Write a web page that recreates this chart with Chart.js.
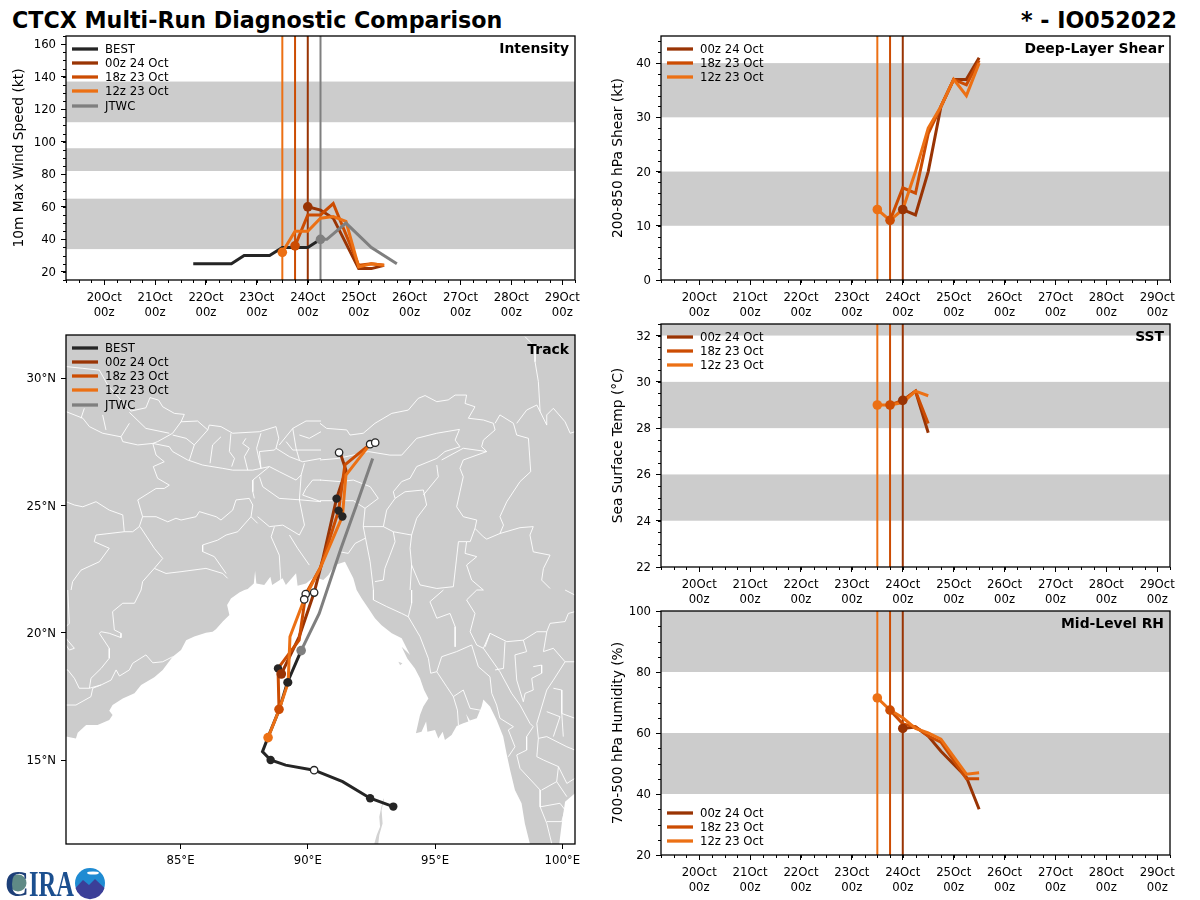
<!DOCTYPE html>
<html>
<head>
<meta charset="utf-8">
<title>CTCX Multi-Run Diagnostic Comparison</title>
<script src="https://cdn.jsdelivr.net/npm/chart.js@4"></script>
<style>
  html, body { margin: 0; background: #fff; }
  #page { position: relative; width: 1200px; height: 900px; overflow: hidden; font-family: "DejaVu Sans", sans-serif; }
  canvas { position: absolute; }
  .head { position: absolute; top: 5px; font-weight: bold; font-size: 22.2px; line-height: 30px; color: #000; white-space: nowrap; }
  #logo { position: absolute; left: 3px; top: 866px; }
</style>
</head>
<body>
<div id="page">
  <div class="head" style="left:12px">CTCX Multi-Run Diagnostic Comparison</div>
  <div class="head" style="right:23px">* - IO052022</div>
  <canvas id="intensity" width="595" height="304" style="left:0;top:26px"></canvas>
  <canvas id="track" width="595" height="549" style="left:0;top:325px"></canvas>
  <canvas id="shear" width="595" height="304" style="left:595px;top:26px"></canvas>
  <canvas id="sst" width="595" height="303" style="left:595px;top:314px"></canvas>
  <canvas id="rh" width="595" height="299" style="left:595px;top:601px"></canvas>
  <svg id="logo" width="106" height="34" viewBox="0 0 106 34">
    <circle cx="15" cy="17" r="8.5" fill="#5f8a86"/>
    <text x="2" y="30" font-family="Liberation Serif" font-weight="bold" font-size="36" fill="#1d3f78" textLength="24" lengthAdjust="spacingAndGlyphs">C</text>
    <text x="26" y="30" font-family="Liberation Serif" font-weight="bold" font-size="35" fill="#1b4f8f" textLength="45" lengthAdjust="spacingAndGlyphs">IRA</text>
    <circle cx="87" cy="17" r="15" fill="#1f8bd2"/>
    <path d="M72.5 22 L80 14 L86 19 L92 13 L101.5 22 A15 15 0 0 1 72.5 22 Z" fill="#3b3f98"/>
    <ellipse cx="90" cy="7" rx="6" ry="1.6" fill="#fff"/>
  </svg>
</div>
<script>
Chart.defaults.font.family = '"DejaVu Sans", sans-serif';
Chart.defaults.font.size = 11.7;
Chart.defaults.color = "#000";
Chart.defaults.animation = false;

// days of October on the time axis
const dayTicks = [20, 21, 22, 23, 24, 25, 26, 27, 28, 29];
const dayLabels = ["20Oct", "21Oct", "22Oct", "23Oct", "24Oct", "25Oct", "26Oct", "27Oct", "28Oct", "29Oct"];
const timeMin = 19.25;
const timeMax = 29.25;

const colorBest = "#252525";
const color00 = "#993404";
const color18 = "#cc4c02";
const color12 = "#ec7014";
const colorJtwc = "#7f7f7f";

const init00 = 24;
const init18 = 23.75;
const init12 = 23.5;
const initJtwc = 24.25;

// Intensity panel
const bestTimes = [21.75, 22, 22.25, 22.5, 22.75, 23, 23.25, 23.5, 23.75, 24, 24.25];
const bestWind = [25, 25, 25, 25, 30, 30, 30, 35, 35, 35, 40];
const jtwcTimes = [24.25, 24.375, 24.75, 25.25, 25.75];
const jtwcWind = [40, 40, 50, 35, 25];
const wind00Times = [24, 24.25, 24.5, 25, 25.25, 25.5];
const wind00 = [60, 58, 53, 22, 22, 24];
const wind18Times = [23.75, 24, 24.25, 24.5, 25, 25.25, 25.5];
const wind18 = [36, 55, 55, 62, 24, 25, 24];
const wind12Times = [23.5, 23.75, 24, 24.25, 24.5, 24.75, 25, 25.25, 25.5];
const wind12 = [32, 45, 45, 53, 54, 51, 23, 25, 24];
const windBands = [[34, 65], [82, 96], [112, 137]];
const windTicks = [20, 40, 60, 80, 100, 120, 140, 160];

// model time steps for the right column
const times00 = [24, 24.25, 24.5, 24.75, 25, 25.25, 25.5];
const times18 = [23.75, 24, 24.25, 24.5, 24.75, 25, 25.25, 25.5];
const times12 = [23.5, 23.75, 24, 24.25, 24.5, 24.75, 25, 25.25, 25.5];

// Deep-layer shear
const shear00 = [13, 12, 20, 32, 37, 37, 41];
const shear18 = [11, 17, 16, 27, 32, 37, 36, 40.5];
const shear12 = [13, 11, 13, 20, 28, 32, 37, 34, 40];
const shearBands = [[10, 20], [30, 40]];
const shearTicks = [0, 10, 20, 30, 40];

// SST
const sstTimes00 = [24, 24.25, 24.5];
const sstTimes18 = [23.75, 24, 24.25, 24.5];
const sstTimes12 = [23.5, 23.75, 24, 24.25, 24.5];
const sst00 = [29.2, 29.6, 27.8];
const sst18 = [29, 29.2, 29.6, 28.2];
const sst12 = [29, 29, 29.1, 29.6, 29.4];
const sstBands = [[24, 26], [28, 30], [32, 34]];
const sstTicks = [22, 24, 26, 28, 30, 32];

// Mid-level RH
const rhTimes00 = [24, 24.25, 24.5, 24.75, 25.25, 25.5];
const rhTimes18 = [23.75, 24, 24.25, 24.5, 24.75, 25.25, 25.5];
const rhTimes12 = [23.5, 23.75, 24, 24.25, 24.5, 24.75, 25.25, 25.5];
const rh00 = [61.5, 62, 59, 54, 45.5, 35];
const rh18 = [67.5, 63, 62, 59, 57, 45, 45];
const rh12 = [71.5, 67.5, 65, 61.5, 60, 58, 46.5, 47];
const rhBands = [[40, 60], [80, 100]];
const rhTicks = [20, 40, 60, 80, 100];

// Track panel, [lon, lat]
const lonTicks = [85, 90, 95, 100];
const latTicks = [15, 20, 25, 30];
const trackBest = [[93.36, 13.17], [92.45, 13.5], [91.37, 14.15], [90.25, 14.6], [89.13, 14.8], [88.54, 15.0], [88.22, 15.33], [88.44, 15.9], [88.87, 16.96], [89.2, 18.05], [89.74, 19.3]];
const trackJtwc = [[89.74, 19.3], [90.45, 20.76], [91.3, 23.3], [91.89, 24.95], [92.55, 26.85]];
const track00 = [[88.96, 18.38], [89.66, 19.84], [90.25, 21.58], [90.58, 22.85], [91.13, 25.27], [91.5, 26.39], [91.27, 27.08]];
const track18 = [[88.87, 16.99], [88.83, 18.6], [89.66, 19.71], [89.92, 21.52], [90.51, 22.59], [91.21, 24.8], [91.46, 26.6], [92.45, 27.41]];
const track12 = [[88.44, 15.88], [88.87, 16.96], [89.23, 18.05], [89.3, 19.84], [89.86, 21.31], [90.51, 22.59], [91.36, 24.57], [91.5, 26.2], [92.45, 27.41], [92.65, 27.47]];
const dotsFilled = [[93.36, 13.17], [92.45, 13.5], [88.54, 15.0], [89.2, 18.05], [88.83, 18.6], [89.23, 18.05], [91.13, 25.27], [91.21, 24.8], [91.36, 24.57]];
const dotsOpen = [[90.25, 14.6], [91.23, 27.08], [92.45, 27.41], [92.65, 27.47], [89.92, 21.52], [89.86, 21.31], [90.25, 21.58]];

// Bay of Bengal as one outline, everything else in the frame is land
const bayOutline = [[80.5, 15.92], [80.89, 15.85], [80.96, 16.07], [81.29, 16.38], [81.74, 16.38], [82.2, 16.57], [82.33, 16.77], [82.2, 16.94], [82.33, 17.16], [82.73, 17.42], [83.19, 17.62], [83.45, 17.95], [83.97, 18.25], [84.3, 18.54], [84.69, 19.06], [85.02, 19.32], [85.22, 19.71], [85.54, 19.85], [86.0, 20.0], [86.26, 20.04], [86.39, 20.14], [86.66, 20.44], [86.92, 20.7], [86.83, 21.09], [86.98, 21.35], [87.31, 21.58], [87.51, 21.68], [87.64, 21.72], [87.88, 21.94], [87.93, 22.43], [87.98, 21.94], [88.29, 21.88], [88.53, 22.2], [88.6, 21.88], [89.01, 22.14], [89.14, 21.88], [89.54, 22.34], [89.6, 21.85], [89.93, 21.94], [90.26, 22.2], [90.61, 22.07], [90.81, 22.27], [91.07, 22.66], [91.46, 22.79], [91.79, 22.14], [91.92, 21.68], [92.12, 21.35], [92.38, 20.96], [92.64, 20.57], [92.9, 20.3], [93.3, 19.98], [93.69, 19.78], [94.02, 19.13], [93.69, 19.45], [93.91, 18.99], [94.21, 18.6], [94.41, 18.21], [94.57, 17.75], [94.74, 17.42], [94.54, 17.1], [94.41, 16.77], [94.25, 16.05], [94.47, 16.11], [94.65, 16.51], [94.7, 16.11], [95.0, 16.18], [95.13, 15.85], [95.3, 16.11], [95.39, 15.79], [95.65, 15.98], [95.85, 16.34], [96.11, 16.44], [96.31, 16.51], [96.22, 16.81], [96.37, 16.55], [96.64, 16.64], [96.83, 17.1], [96.9, 17.38], [97.16, 17.1], [97.42, 16.57], [97.68, 15.92], [97.81, 15.26], [97.95, 14.61], [98.14, 13.82], [98.4, 13.3], [98.53, 12.51], [98.73, 11.7], [80.5, 11.7]];
const gulfOutline = [[100.5, 13.69], [100.11, 13.36], [100.04, 12.9], [99.98, 12.51], [99.88, 11.7], [100.5, 11.7]];
const andamanOutline = [[92.97, 13.5], [92.88, 13.1], [92.81, 12.77], [92.84, 12.38], [92.71, 12.05], [92.61, 11.7], [92.77, 11.7], [92.81, 12.05], [92.94, 12.51], [92.9, 13.04], [92.99, 13.43]];
const cheduba = [[93.56, 18.86], [93.72, 18.8], [93.63, 18.72]];

const borderLines = [
  [[80.5, 30.46], [81.16, 30.39], [81.81, 30.32], [82.14, 29.73], [82.66, 29.14], [83.05, 28.71], [83.64, 28.84], [83.8, 29.24], [84.14, 29.14], [84.3, 28.88], [84.76, 28.62], [85.15, 28.58], [85.02, 28.29], [85.67, 28.32], [86.07, 27.97], [86.13, 28.16], [86.59, 28.1], [87.05, 27.84], [88.1, 27.9], [88.75, 28.1], [88.86, 27.64], [88.75, 27.25]],
  [[80.5, 28.69], [81.16, 28.43], [81.42, 28.1], [81.94, 27.84], [82.66, 27.7], [82.73, 27.51], [83.32, 27.38], [83.91, 27.44], [84.56, 27.31], [84.69, 27.12], [85.28, 26.79], [85.87, 26.59], [86.66, 26.46], [87.05, 26.39], [87.84, 26.39], [88.16, 26.46], [88.1, 27.12], [88.69, 27.18], [88.75, 27.25]],
  [[81.22, 28.82], [81.09, 28.43]],
  [[81.94, 28.56], [82.07, 27.97]],
  [[82.99, 28.66], [83.64, 28.03], [84.56, 27.84]],
  [[85.02, 28.29], [84.69, 27.84], [84.1, 27.51], [83.91, 27.44]],
  [[84.69, 27.77], [85.22, 27.64], [85.54, 27.38], [85.35, 26.79]],
  [[86.07, 27.97], [85.54, 27.38]],
  [[86.59, 27.7], [86.26, 27.38], [86.16, 26.66]],
  [[86.98, 27.84], [86.92, 27.12], [87.12, 26.85], [87.01, 26.53]],
  [[87.57, 27.64], [87.44, 27.44], [87.7, 27.25], [87.51, 26.92], [87.64, 26.39]],
  [[88.16, 27.84], [87.99, 27.25], [88.16, 26.46]],
  [[82.99, 28.23], [82.66, 27.7]],
  [[83.91, 27.44], [84.04, 26.98], [84.36, 26.72], [83.93, 26.53], [84.1, 26.07], [84.56, 25.8], [84.36, 25.67], [84.04, 25.67], [83.32, 25.22], [83.51, 24.56], [83.38, 24.17], [83.12, 23.97], [82.79, 23.97], [82.73, 24.63], [82.2, 24.82], [81.68, 25.15], [81.16, 24.95], [80.83, 25.02], [80.5, 25.15]],
  [[83.51, 24.56], [84.04, 24.56], [84.5, 24.36], [84.82, 24.5], [85.02, 24.43], [85.61, 24.56], [85.74, 24.76], [86.4, 24.56], [86.59, 24.43], [87.05, 24.82], [87.18, 25.22], [87.7, 25.28], [87.84, 25.02], [87.77, 24.56], [88.03, 24.3]],
  [[87.77, 24.56], [87.25, 23.97], [86.79, 23.84], [86.46, 23.64], [85.87, 23.45], [85.87, 23.19], [86.33, 22.99], [86.79, 22.33]],
  [[83.41, 24.17], [83.97, 23.32], [84.3, 22.92], [83.97, 22.53], [84.43, 22.33], [85.02, 22.4], [86.0, 22.53], [86.66, 22.33], [86.85, 22.14]],
  [[83.97, 22.53], [83.51, 22.01], [83.45, 21.68]],
  [[82.79, 23.97], [81.68, 23.84], [81.61, 23.58], [82.2, 23.32], [81.81, 22.79], [81.09, 22.46], [80.76, 22.01], [80.7, 21.68]],
  [[88.49, 26.53], [87.84, 26.0], [87.84, 25.54], [87.9, 25.28]],
  [[88.16, 26.46], [88.49, 26.53], [88.88, 26.33], [89.54, 26.0], [89.74, 26.2], [89.87, 26.66]],
  [[88.1, 26.13], [88.23, 25.74], [88.88, 25.28], [89.74, 25.22], [90.52, 25.15]],
  [[88.03, 24.56], [88.49, 24.17], [89.02, 24.23], [89.67, 23.84], [89.87, 24.23], [89.67, 25.22], [89.74, 26.2]],
  [[88.69, 24.17], [88.56, 23.77], [88.88, 23.05], [88.95, 21.9]],
  [[89.28, 23.84], [89.6, 23.32], [90.06, 22.66]],
  [[88.88, 27.38], [89.41, 28.03], [89.93, 28.32], [90.52, 28.32]],
  [[89.41, 28.03], [89.54, 27.25], [89.67, 26.79]],
  [[89.67, 27.77], [90.06, 27.64], [90.52, 27.9]],
  [[89.15, 27.51], [89.41, 27.18], [90.52, 27.18]],
  [[88.75, 27.25], [89.28, 26.92], [89.8, 26.72], [90.52, 26.85]],
  [[89.93, 25.67], [90.19, 26.0], [90.52, 26.0]],
  [[89.93, 25.67], [89.8, 25.41], [90.52, 25.15]],
  [[90.48, 28.23], [90.74, 28.03], [91.53, 27.97], [91.66, 27.77], [92.18, 27.84], [92.64, 28.23], [93.3, 28.62], [93.95, 28.75], [94.34, 29.21], [94.61, 29.32], [95.07, 29.08], [95.52, 29.15], [95.79, 29.34], [96.24, 29.34], [96.18, 29.01], [96.57, 28.88], [96.31, 28.43], [96.9, 28.36], [97.29, 28.23], [97.36, 27.97], [96.9, 27.57], [96.83, 27.31], [97.03, 27.12], [96.11, 27.25], [95.26, 26.79]],
  [[90.48, 26.79], [91.2, 26.85], [92.38, 27.12], [93.23, 26.98], [93.69, 26.98], [94.28, 27.64], [95.07, 27.84], [95.96, 27.99], [95.79, 27.57], [95.98, 27.31], [95.39, 27.12], [95.07, 26.85], [94.28, 26.53], [94.02, 26.07], [93.69, 25.94], [93.36, 25.54], [93.43, 25.28], [93.82, 25.54], [94.54, 25.61], [94.67, 25.02], [94.28, 24.5], [94.08, 23.84], [93.36, 23.97], [92.97, 24.17], [93.1, 24.82], [93.43, 25.28]],
  [[95.07, 26.59], [95.13, 26.13], [94.54, 25.41]],
  [[97.03, 27.12], [96.11, 26.79], [95.98, 26.46], [96.11, 26.13], [95.98, 25.54], [95.85, 24.95], [96.11, 24.56], [96.64, 24.43], [96.57, 24.1], [96.9, 23.77], [97.03, 23.68], [97.55, 23.9], [98.34, 24.13], [98.86, 24.17]],
  [[97.36, 28.23], [97.55, 28.56], [98.08, 28.23], [98.21, 27.77], [98.67, 27.64], [98.76, 26.33], [98.34, 25.94], [97.82, 25.15], [97.55, 24.56], [97.69, 24.23], [97.55, 23.9]],
  [[98.54, 31.63], [98.93, 31.24], [98.93, 30.65], [99.06, 29.87], [99.13, 28.69], [99.39, 28.16], [99.39, 28.56], [99.65, 28.82], [100.11, 28.29], [100.31, 27.84], [100.5, 27.9]],
  [[98.21, 28.23], [98.6, 28.75], [99.0, 28.95], [99.13, 28.69]],
  [[98.86, 24.17], [98.73, 23.84], [98.86, 23.18], [99.52, 23.05], [99.26, 22.53], [99.19, 22.07], [99.52, 21.74]],
  [[90.48, 26.0], [91.27, 25.94], [91.79, 26.0], [92.45, 25.74], [92.77, 25.28], [92.25, 24.89], [91.79, 25.19], [90.48, 25.19]],
  [[92.25, 24.89], [92.18, 24.17], [92.97, 24.17]],
  [[92.18, 24.17], [92.45, 22.79], [92.58, 21.68]],
  [[92.25, 23.71], [91.86, 23.51], [91.59, 23.12], [91.27, 23.18], [91.4, 23.58]],
  [[93.36, 23.97], [93.43, 23.58], [93.23, 23.05], [93.03, 22.53], [92.97, 22.07], [92.64, 22.01]],
  [[94.08, 23.84], [94.02, 23.32], [94.08, 22.66], [94.02, 21.68]],
  [[94.08, 22.66], [94.41, 21.88], [95.07, 21.74], [95.72, 21.81], [95.92, 23.58], [96.24, 23.58], [96.18, 23.12], [96.64, 22.99], [96.24, 22.66], [96.44, 22.07], [96.9, 21.68]],
  [[96.57, 24.1], [96.38, 23.58], [96.24, 23.58]],
  [[92.58, 21.68], [92.58, 21.29], [93.1, 21.03], [93.69, 20.76], [93.95, 20.63], [94.41, 19.85], [94.74, 18.99], [94.83, 18.41], [95.07, 18.47], [95.26, 19.06], [95.85, 19.26], [96.44, 19.52]],
  [[94.08, 21.68], [94.08, 21.16], [93.95, 20.63]],
  [[95.33, 21.68], [94.8, 21.22], [95.07, 20.57], [95.59, 20.76], [95.79, 20.24], [95.79, 19.45]],
  [[96.9, 21.68], [96.64, 21.68], [96.24, 21.29], [96.57, 20.76], [96.38, 20.04], [96.64, 19.52], [96.9, 19.39], [97.16, 19.98], [97.82, 19.65], [98.47, 19.71], [99.0, 20.04], [99.39, 20.04], [99.52, 20.37], [100.11, 20.44], [100.24, 20.76], [100.5, 20.83]],
  [[100.11, 21.68], [100.5, 21.48]],
  [[95.07, 18.47], [95.46, 17.88], [95.72, 17.49], [96.11, 17.75], [96.38, 17.03], [96.77, 16.96]],
  [[95.72, 17.49], [95.88, 16.96], [95.92, 16.37]],
  [[96.44, 19.52], [96.7, 18.67], [97.16, 18.27], [97.23, 17.62], [97.42, 17.16], [97.55, 16.64], [98.08, 16.31], [97.88, 16.18], [98.14, 15.52], [97.88, 15.13]],
  [[96.9, 19.39], [97.55, 18.47], [98.01, 17.62], [98.34, 17.16], [98.73, 16.44], [98.86, 16.31], [98.6, 15.92], [98.6, 15.39], [98.21, 15.2], [98.34, 14.67], [99.13, 13.82], [99.13, 13.16], [99.39, 12.51], [99.59, 11.7]],
  [[97.16, 19.98], [96.97, 19.45]],
  [[97.75, 19.65], [97.69, 18.6], [97.36, 18.54]],
  [[98.47, 19.71], [98.6, 19.26], [98.14, 19.13], [98.21, 18.14], [98.47, 17.29]],
  [[98.86, 18.67], [99.19, 18.73], [99.19, 18.41], [98.8, 18.21], [98.86, 17.75], [98.54, 17.62], [98.47, 17.29]],
  [[99.39, 20.04], [99.26, 19.26], [99.65, 19.39], [100.11, 18.86], [100.5, 18.86]],
  [[100.11, 18.86], [99.65, 18.14], [99.39, 17.75], [99.0, 16.44], [99.06, 15.85], [99.39, 15.92], [100.18, 15.52], [100.5, 15.39]],
  [[99.65, 17.82], [99.98, 17.75], [99.98, 16.83], [100.5, 16.64]],
  [[99.39, 16.9], [99.91, 16.7], [99.65, 15.92]],
  [[99.98, 16.83], [100.04, 15.92]],
  [[99.06, 15.85], [99.0, 15.13], [99.26, 15.0], [99.85, 14.74], [99.78, 14.15], [99.19, 13.82]],
  [[99.85, 14.74], [100.18, 14.08], [100.5, 14.28]],
  [[99.78, 14.15], [100.18, 13.56]],
  [[99.13, 13.16], [99.91, 13.3], [100.11, 13.04], [99.98, 12.58], [99.39, 12.58]],
  [[83.45, 21.68], [83.19, 21.16], [82.73, 21.16], [82.33, 20.83], [82.4, 20.11], [82.66, 19.98], [82.66, 19.81], [82.2, 19.98], [81.88, 20.04], [81.81, 19.98], [82.2, 19.39], [82.2, 19.0], [81.88, 18.6], [81.48, 18.21], [81.42, 17.82], [81.02, 17.82], [80.83, 18.21], [80.57, 18.54], [80.5, 18.54]],
  [[81.42, 17.82], [81.88, 17.95], [82.27, 18.14], [82.47, 18.54], [82.6, 18.3], [82.99, 18.54], [83.12, 18.8], [83.64, 19.13], [83.91, 18.82], [84.3, 18.86], [84.69, 19.06]],
  [[81.88, 17.95], [81.55, 17.82], [81.48, 17.49], [80.89, 17.16], [80.5, 17.16]],
  [[80.5, 19.78], [80.83, 19.39], [80.63, 19.32], [80.5, 19.52]],
  [[80.57, 21.68], [80.63, 20.37], [80.5, 20.24]]
];

const zip = (xs, ys) => xs.map((x, i) => ({ x, y: ys[i] }));
const lonLat = pts => pts.map(p => ({ x: p[0], y: p[1] }));

function lineSet(points, color, width) {
  return { data: points, showLine: true, borderColor: color, backgroundColor: color, borderWidth: width || 3, pointRadius: 0, borderJoinStyle: "miter" };
}

function startDot(x, y, color, r) {
  return { data: [{ x, y }], showLine: false, pointRadius: r || 4.8, pointBackgroundColor: color, pointBorderColor: color, pointBorderWidth: 0 };
}

function polygon(points, color) {
  return { data: lonLat(points), showLine: true, fill: "shape", borderWidth: 0, borderColor: color, backgroundColor: color, pointRadius: 0 };
}

// first in the list is painted first
function paintOrder(sets) {
  sets.forEach((s, i) => { s.order = sets.length - i; });
  return sets;
}

// bands, frame, minor ticks, legend and the panel name, all placed with the chart's scales
const panelPlugin = {
  id: "panel",
  beforeDatasetsDraw(chart, args, opts) {
    const { ctx, chartArea: a, scales: { y } } = chart;
    ctx.save();
    if (opts.land) {
      ctx.fillStyle = opts.land;
      ctx.fillRect(a.left, a.top, a.width, a.height);
    }
    ctx.beginPath();
    ctx.rect(a.left, a.top, a.width, a.height);
    ctx.clip();
    ctx.fillStyle = "#cccccc";
    (opts.bands || []).forEach(b => {
      const top = y.getPixelForValue(b[1]);
      ctx.fillRect(a.left, top, a.width, y.getPixelForValue(b[0]) - top);
    });
    ctx.restore();
  },
  afterDatasetsDraw(chart, args, opts) {
    const { ctx, chartArea: a, scales: { x, y } } = chart;
    ctx.save();
    ctx.strokeStyle = "#000";
    ctx.lineWidth = 1;
    ctx.beginPath();
    if (opts.minorX) {
      for (let v = x.min; v <= x.max; v += opts.minorX) {
        const px = Math.round(x.getPixelForValue(v)) + 0.5;
        ctx.moveTo(px, a.bottom);
        ctx.lineTo(px, a.bottom + 3);
      }
    }
    if (opts.minorY) {
      for (let v = y.min; v <= y.max; v += opts.minorY) {
        const py = Math.round(y.getPixelForValue(v)) + 0.5;
        ctx.moveTo(a.left, py);
        ctx.lineTo(a.left - 3, py);
      }
    }
    ctx.stroke();
    ctx.lineWidth = 1.3;
    ctx.strokeRect(a.left, a.top, a.width, a.height);

    ctx.font = '11.7px "DejaVu Sans"';
    ctx.textBaseline = "middle";
    ctx.textAlign = "left";
    const rowY = opts.legendBottom ? a.bottom - 14 - 14 * (opts.legend.length - 1) : a.top + 13;
    opts.legend.forEach((item, i) => {
      const ly = rowY + i * 14 + (item[0] === "JTWC" ? 1 : 0);
      ctx.strokeStyle = item[1];
      ctx.lineWidth = 3.3;
      ctx.beginPath();
      ctx.moveTo(a.left + 6, ly);
      ctx.lineTo(a.left + 32, ly);
      ctx.stroke();
      ctx.fillStyle = "#000";
      ctx.fillText(item[0], a.left + 39, ly + 1);
    });

    ctx.font = 'bold 13.9px "DejaVu Sans"';
    ctx.textAlign = "right";
    ctx.fillText(opts.name, a.right - 6, a.top + (opts.nameDrop || 13));
    ctx.restore();
  }
};

const legendAll = [["BEST", colorBest], ["00z 24 Oct", color00], ["18z 23 Oct", color18], ["12z 23 Oct", color12], ["JTWC", colorJtwc]];
const legendRuns = [["00z 24 Oct", color00], ["18z 23 Oct", color18], ["12z 23 Oct", color12]];

function timeAxis(bottom) {
  return {
    type: "linear",
    min: timeMin,
    max: timeMax,
    afterBuildTicks: s => { s.ticks = dayTicks.map(value => ({ value })); },
    afterFit: s => { s.height = bottom; },
    ticks: { autoSkip: false, maxRotation: 0, minRotation: 0, padding: 5, font: { lineHeight: 1.28 }, callback: v => [dayLabels[dayTicks.indexOf(v)], "00z"] },
    grid: { drawOnChartArea: false, tickLength: 5, tickColor: "#000", tickWidth: 1 },
    border: { display: false }
  };
}

function valueAxis(min, max, ticks, label, pad, suffix) {
  return {
    type: "linear",
    min,
    max,
    afterBuildTicks: s => { s.ticks = ticks.map(value => ({ value })); },
    // keep the plot box where the layout puts it, no extra room for the top tick label
    afterFit: s => { s.width = 66; s.paddingTop = 0; s.paddingBottom = 0; },
    title: { display: !!label, text: label, font: { size: 13.8 }, padding: { top: pad, bottom: 0 } },
    ticks: { autoSkip: false, padding: 5, labelOffset: 1, callback: v => v + (suffix || "") },
    grid: { drawOnChartArea: false, tickLength: 5, tickColor: "#000", tickWidth: 1 },
    border: { display: false }
  };
}

function makePanel(id, sets, x, y, panel) {
  return new Chart(document.getElementById(id), {
    type: "scatter",
    data: { datasets: paintOrder(sets) },
    plugins: [panelPlugin],
    options: {
      responsive: false,
      events: [],
      layout: { padding: { top: 10, right: 20, bottom: 0, left: 0 } },
      scales: { x, y },
      plugins: { legend: { display: false }, tooltip: { enabled: false }, panel }
    }
  });
}

function initLines(min, max, withJtwc) {
  const sets = [
    lineSet(zip([init00, init00], [min, max]), color00, 2),
    lineSet(zip([init18, init18], [min, max]), color18, 2),
    lineSet(zip([init12, init12], [min, max]), color12, 2)
  ];
  if (withJtwc) sets.push(lineSet(zip([initJtwc, initJtwc], [min, max]), colorJtwc, 2));
  return sets;
}

function runPanel(id, min, max, ticks, label, pad, minorY, bands, v00, v18, v12, t00, t18, t12, bottom, name, legendBottom) {
  makePanel(id, [
    ...initLines(min, max, false),
    lineSet(zip(t00, v00), color00),
    lineSet(zip(t18, v18), color18),
    lineSet(zip(t12, v12), color12),
    startDot(t00[0], v00[0], color00),
    startDot(t18[0], v18[0], color18),
    startDot(t12[0], v12[0], color12)
  ], timeAxis(bottom), valueAxis(min, max, ticks, label, pad), { bands, minorX: 0.25, minorY, legend: legendRuns, name, legendBottom });
}

makePanel("intensity", [
  ...initLines(15, 165, true),
  lineSet(zip(bestTimes, bestWind), colorBest),
  lineSet(zip(wind00Times, wind00), color00),
  lineSet(zip(wind18Times, wind18), color18),
  lineSet(zip(wind12Times, wind12), color12),
  lineSet(zip(jtwcTimes, jtwcWind), colorJtwc),
  startDot(init00, wind00[0], color00),
  startDot(init18, wind18[0], color18),
  startDot(init12, wind12[0], color12),
  startDot(initJtwc, jtwcWind[0], colorJtwc)
], timeAxis(50), valueAxis(15, 165, windTicks, "10m Max Wind Speed (kt)", 11), { bands: windBands, minorX: 0.25, minorY: 5, legend: legendAll, name: "Intensity" });

runPanel("shear", 0, 45, shearTicks, "200-850 hPa Shear (kt)", 15, 2, shearBands, shear00, shear18, shear12, times00, times18, times12, 50, "Deep-Layer Shear", false);
runPanel("sst", 22, 32.5, sstTicks, "Sea Surface Temp (°C)", 15, 0.5, sstBands, sst00, sst18, sst12, sstTimes00, sstTimes18, sstTimes12, 50, "SST", false);
runPanel("rh", 20, 100, rhTicks, "700-500 hPa Humidity (%)", 15, 5, rhBands, rh00, rh18, rh12, rhTimes00, rhTimes18, rhTimes12, 45, "Mid-Level RH", true);

const lonAxis = valueAxis(80.5, 100.5, lonTicks, "", 0);
lonAxis.afterFit = s => { s.height = 30; };
lonAxis.ticks.callback = v => v + "°E";
lonAxis.ticks.maxRotation = 0;
lonAxis.ticks.minRotation = 0;
lonAxis.ticks.labelOffset = 0;
const latAxis = valueAxis(11.7, 31.7, latTicks, "", 0);
latAxis.ticks.callback = v => v + "°N";

makePanel("track", [
  polygon(bayOutline, "#ffffff"),
  polygon(gulfOutline, "#ffffff"),
  polygon(andamanOutline, "#d2d2d2"),
  polygon(cheduba, "#d2d2d2"),
  ...borderLines.map(l => lineSet(lonLat(l), "#ffffff", 0.9)),
  lineSet(lonLat(trackBest), colorBest),
  lineSet(lonLat(track00), color00),
  lineSet(lonLat(track18), color18),
  lineSet(lonLat(track12), color12),
  lineSet(lonLat(trackJtwc), colorJtwc),
  { data: lonLat(dotsFilled), showLine: false, pointRadius: 4.2, pointBackgroundColor: colorBest, pointBorderWidth: 0 },
  { data: lonLat(dotsOpen), showLine: false, pointRadius: 3.7, pointBackgroundColor: "#ffffff", pointBorderColor: colorBest, pointBorderWidth: 1.3 },
  startDot(track00[0][0], track00[0][1], color00),
  startDot(track18[0][0], track18[0][1], color18),
  startDot(track12[0][0], track12[0][1], color12),
  startDot(trackJtwc[0][0], trackJtwc[0][1], colorJtwc)
], lonAxis, latAxis, { land: "#cccccc", legend: legendAll, name: "Track", nameDrop: 15 });
</script>
</body>
</html>
